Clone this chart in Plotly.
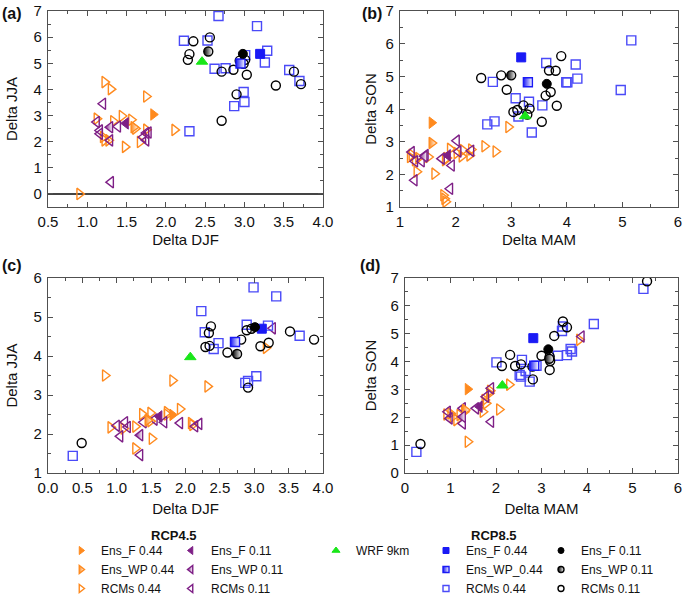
import plotly.graph_objects as go

# ---------------- data ----------------
# Panel (a): x = Delta DJF, y = Delta JJA
A_O_F = [[1.84, 3.04]]
A_O_WP = [[1.59, 2.55]]
A_O_R = [[1.22, 4.28], [1.30, 4.01], [1.75, 3.73], [1.44, 2.98], [1.56, 2.84], [1.12, 2.88],
         [1.33, 2.78], [1.61, 2.50], [1.75, 2.46], [2.11, 2.45], [1.67, 1.99], [1.22, 2.05],
         [1.48, 1.80], [1.20, 2.18], [0.90, 0.00], [1.27, 2.05]]
A_P_F = [[1.49, 2.70]]
A_P_WP = [[1.29, 2.55]]
A_P_R = [[1.20, 3.45], [1.12, 2.75], [1.39, 2.58], [1.16, 2.43], [1.16, 2.30], [1.75, 2.33],
         [1.71, 2.17], [1.75, 2.05], [1.29, 2.05], [1.30, 0.45], [1.78, 2.35]]
A_WRF = [[2.46, 5.06]]
A_B_F = [[3.20, 5.36]]
A_B_WP = [[2.95, 4.99]]
A_B_R = [[2.67, 6.81], [3.16, 6.42], [2.23, 5.86], [2.53, 5.87], [3.01, 5.31], [3.29, 5.48],
         [3.26, 5.03], [2.62, 4.79], [2.76, 4.81], [3.57, 4.74], [3.70, 4.32], [2.99, 3.90],
         [3.00, 3.52], [2.87, 3.36], [2.30, 2.40]]
A_K_F = [[2.98, 5.36]]
A_K_WP = [[2.54, 5.45]]
A_K_R = [[2.35, 5.84], [2.56, 5.99], [2.30, 5.35], [2.28, 5.13], [2.71, 4.68], [2.86, 4.75],
         [2.94, 5.10], [3.01, 5.13], [3.03, 4.56], [2.90, 3.81], [2.71, 2.80], [3.40, 4.15],
         [3.63, 4.68], [3.72, 4.20], [2.99, 4.98]]

# Panel (b): x = Delta MAM, y = Delta SON
B_O_F = [[1.57, 3.58]]
B_O_WP = [[1.57, 2.96]]
B_O_R = [[2.52, 2.86], [2.72, 2.70], [2.95, 3.45], [2.28, 2.76], [2.13, 2.74], [2.11, 2.55],
         [2.25, 2.58], [1.90, 2.78], [1.81, 2.43], [1.84, 2.50], [1.21, 2.60], [1.18, 2.53],
         [1.27, 2.43], [1.51, 2.53], [1.33, 2.50], [1.30, 2.08], [1.62, 2.02], [1.78, 1.36],
         [1.80, 1.25], [1.82, 1.16], [2.02, 2.65]]
B_P_F = [[1.86, 2.58]]
B_P_WP = [[1.44, 2.55]]
B_P_R = [[2.02, 3.03], [1.93, 2.27], [2.28, 2.72], [1.21, 2.68], [1.27, 2.40], [1.39, 2.40],
         [1.46, 2.59], [1.26, 1.82], [1.90, 1.56], [1.75, 2.48], [2.05, 2.70]]
B_WRF = [[3.25, 3.78]]
B_B_F = [[3.18, 5.58]]
B_B_WP = [[3.30, 4.82]]
B_B_R = [[5.16, 6.10], [4.97, 4.58], [3.63, 5.41], [4.16, 5.36], [3.99, 4.82], [4.19, 4.93],
         [2.67, 4.83], [3.08, 4.33], [3.13, 3.77], [3.32, 4.22], [3.56, 4.11], [3.37, 3.28],
         [2.57, 3.53], [2.70, 3.62], [4.01, 4.82]]
B_K_F = [[3.64, 4.77]]
B_K_WP = [[3.00, 5.03]]
B_K_R = [[3.90, 5.62], [3.68, 5.18], [3.80, 5.17], [2.82, 5.03], [2.46, 4.95], [2.92, 4.59],
         [3.62, 4.41], [3.71, 4.52], [3.82, 4.10], [3.55, 3.61], [3.04, 3.91], [3.11, 3.97],
         [3.22, 4.11], [3.33, 4.01], [3.29, 3.83]]

# Panel (c): x = Delta DJF, y = Delta JJA
C_O_F = [[1.81, 2.49]]
C_O_WP = [[1.45, 2.35]]
C_O_R = [[0.83, 3.50], [1.81, 3.37], [2.32, 3.22], [3.17, 4.21], [0.91, 2.17], [1.37, 2.51],
         [1.49, 2.54], [1.73, 2.56], [1.92, 2.64], [1.51, 1.88], [1.27, 1.63], [2.08, 2.28],
         [1.10, 2.14], [1.27, 2.19], [2.10, 2.23], [1.49, 2.33], [1.73, 2.50]]
C_P_F = [[1.62, 2.45]]
C_P_WP = [[1.34, 1.97]]
C_P_R = [[3.27, 4.71], [1.00, 2.21], [1.05, 1.94], [1.12, 2.30], [1.16, 2.18], [1.34, 1.46],
         [1.39, 2.30], [1.55, 2.37], [1.69, 2.30], [1.92, 2.28], [2.14, 2.20], [2.20, 2.26]]
C_WRF = [[2.07, 3.97]]
C_B_F = [[3.11, 4.70]]
C_B_WP = [[2.72, 4.36]]
C_B_R = [[0.36, 1.44], [2.99, 5.76], [3.32, 5.53], [2.23, 5.15], [2.28, 4.61], [2.48, 4.33],
         [2.41, 4.18], [2.89, 4.80], [3.20, 4.78], [3.66, 4.52], [3.03, 3.48], [2.87, 3.31],
         [2.91, 3.36]]
C_K_F = [[3.01, 4.74]]
C_K_WP = [[2.75, 4.05]]
C_K_R = [[0.49, 1.77], [2.34, 4.59], [2.37, 4.76], [2.29, 4.23], [2.35, 4.26], [2.61, 4.09],
         [2.81, 4.42], [2.89, 4.66], [2.96, 4.70], [3.09, 4.25], [3.21, 4.34], [3.52, 4.63],
         [3.87, 4.42], [2.91, 3.19]]

# Panel (d): x = Delta MAM, y = Delta SON
D_O_F = [[1.38, 3.01]]
D_O_WP = [[1.32, 2.26]]
D_O_R = [[2.29, 3.17], [2.07, 2.28], [1.38, 1.12], [3.83, 4.78], [1.85, 2.86], [1.75, 2.62],
         [1.78, 2.50], [1.71, 2.20], [0.91, 2.10], [1.30, 2.20], [1.05, 2.02], [1.13, 1.90],
         [1.20, 2.08], [1.00, 2.14], [1.87, 2.95]]
D_P_F = [[1.64, 2.38]]
D_P_WP = [[1.27, 2.02]]
D_P_R = [[1.89, 3.04], [1.78, 2.74], [1.56, 2.32], [1.89, 1.84], [0.94, 2.20], [1.27, 2.32],
         [1.27, 1.78], [0.98, 1.96], [3.88, 4.90]]
D_WRF = [[2.14, 3.14]]
D_B_F = [[2.82, 4.84]]
D_B_WP = [[2.84, 3.85]]
D_B_R = [[0.25, 0.76], [5.24, 6.61], [4.15, 5.35], [2.01, 3.97], [2.57, 4.06], [2.65, 3.66],
         [2.52, 3.52], [2.55, 3.46], [2.74, 3.28], [2.89, 3.85], [3.36, 4.21], [3.56, 4.23],
         [3.67, 4.36], [3.64, 4.45], [3.45, 5.10], [3.47, 5.26]]
D_K_F = [[3.15, 4.44]]
D_K_WP = [[3.17, 4.10]]
D_K_R = [[0.34, 1.04], [5.32, 6.88], [3.47, 5.44], [3.56, 5.23], [3.28, 4.92], [2.31, 4.24],
         [2.13, 3.84], [2.42, 3.84], [2.55, 3.90], [2.80, 3.82], [3.00, 4.21], [3.18, 4.18],
         [3.19, 4.02], [3.18, 3.70], [2.81, 3.36]]

PANELS = {
    "a": [A_O_F, A_O_WP, A_O_R, A_P_F, A_P_WP, A_P_R, A_WRF, A_B_F, A_B_WP, A_B_R, A_K_F, A_K_WP, A_K_R],
    "b": [B_O_F, B_O_WP, B_O_R, B_P_F, B_P_WP, B_P_R, B_WRF, B_B_F, B_B_WP, B_B_R, B_K_F, B_K_WP, B_K_R],
    "c": [C_O_F, C_O_WP, C_O_R, C_P_F, C_P_WP, C_P_R, C_WRF, C_B_F, C_B_WP, C_B_R, C_K_F, C_K_WP, C_K_R],
    "d": [D_O_F, D_O_WP, D_O_R, D_P_F, D_P_WP, D_P_R, D_WRF, D_B_F, D_B_WP, D_B_R, D_K_F, D_K_WP, D_K_R],
}

SERIES_NAMES = ["Ens_F 0.44", "Ens_WP 0.44", "RCMs 0.44",
                "Ens_F 0.11", "Ens_WP 0.11", "RCMs 0.11",
                "WRF 9km",
                "Ens_F 0.44", "Ens_WP_0.44", "RCMs 0.44",
                "Ens_F 0.11", "Ens_WP 0.11", "RCMs 0.11"]

# ---------------- styles ----------------
ORANGE = "#FF8A1E"
PURPLE = "#7E1F86"
GREEN = "#19E619"
BLUE = "#1A1AF5"
BLUE_OPEN = "#4A4AF8"
BLACK = "#000000"

# (symbol, color, kind) kind: F filled, WP half, R open
STYLES = [
    ("triangle-right", ORANGE, "F"), ("triangle-right", ORANGE, "WP"), ("triangle-right-open", ORANGE, "R"),
    ("triangle-left", PURPLE, "F"), ("triangle-left", PURPLE, "WP"), ("triangle-left-open", PURPLE, "R"),
    ("triangle-up", GREEN, "F"),
    ("square", BLUE, "F"), ("square", BLUE, "WP"), ("square-open", BLUE_OPEN, "R"),
    ("circle", BLACK, "F"), ("circle", BLACK, "WP"), ("circle-open", BLACK, "R"),
]
LEGEND_OF = ["legend", "legend", "legend", "legend2", "legend2", "legend2", "legend3",
             "legend4", "legend4", "legend4", "legend5", "legend5", "legend5"]

AXES = {"a": ("x", "y"), "b": ("x2", "y2"), "c": ("x3", "y3"), "d": ("x4", "y4")}


def marker_for(sym, color, kind, size):
    m = dict(symbol=sym, size=size, color=color)
    if kind == "R":
        m["line"] = dict(color=color, width=1.4)
    elif kind == "WP":
        m["line"] = dict(color=color, width=1.4)
        m["gradient"] = dict(type="horizontal", color="white")
    else:
        m["line"] = dict(color=color, width=1)
    if sym.startswith("triangle"):
        m["size"] = size + 1
    return m


fig = go.Figure()

for panel, series_list in PANELS.items():
    xa, ya = AXES[panel]
    # draw open markers first, filled ones last (on top)
    order = [2, 5, 9, 12, 1, 4, 8, 11, 0, 3, 7, 10, 6]
    for i in order:
        pts = series_list[i]
        sym, color, kind = STYLES[i]
        fig.add_trace(go.Scatter(
            x=[p[0] for p in pts], y=[p[1] for p in pts],
            mode="markers", xaxis=xa, yaxis=ya,
            marker=marker_for(sym, color, kind, 9),
            showlegend=False, hoverinfo="x+y",
        ))

# legend entries (small symbols, like the reference legend)
for i, name in enumerate(SERIES_NAMES):
    sym, color, kind = STYLES[i]
    fig.add_trace(go.Scatter(
        x=[None], y=[None], mode="markers", name=name,
        marker=marker_for(sym, color, kind, 6),
        legend=LEGEND_OF[i], showlegend=True, xaxis="x", yaxis="y",
    ))

FONT = "Arial, Liberation Sans, Helvetica, sans-serif"
AX_COL = "#505050"


def axis(domain, rng, dtick, mdtick, title, anchor, fmt=None, zeroline=False, standoff=6, is_x=True):
    d = dict(domain=domain, range=rng, dtick=dtick, tick0=0,
             showline=True, linecolor=AX_COL, linewidth=1.3, mirror="ticks",
             ticks="inside", ticklen=5, tickwidth=1, tickcolor=AX_COL,
             minor=dict(ticks="inside", ticklen=3, dtick=mdtick, tick0=0, tickcolor=AX_COL),
             showgrid=False, zeroline=zeroline, zerolinecolor="#444", zerolinewidth=1.5,
             tickfont=dict(size=15, color="#111"), anchor=anchor,
             ticklabelstandoff=(1 if is_x else 2),
             title=dict(text=title, font=dict(size=15, color="#111"), standoff=standoff))
    if fmt:
        d["tickformat"] = fmt
    return d


W, H = 685.0, 598.0


def px_dom_x(a, b):
    return [a / W, b / W]


def px_dom_y(top, bottom):
    return [1 - bottom / H, 1 - top / H]


fig.update_layout(
    width=685, height=598,
    margin=dict(l=0, r=0, t=0, b=0, autoexpand=False),
    paper_bgcolor="white", plot_bgcolor="white",
    font=dict(family=FONT, size=15, color="#111"),
    xaxis=axis(px_dom_x(48, 323), [0.5, 4.0], 0.5, 0.25, "Delta DJF", "y", ".1f", standoff=5),
    yaxis=axis(px_dom_y(11, 207), [-0.5, 7], 1, 0.5, "Delta JJA", "x", zeroline=True, standoff=12, is_x=False),
    xaxis2=axis(px_dom_x(400, 678), [1, 6], 1, 0.5, "Delta MAM", "y2", standoff=5),
    yaxis2=axis(px_dom_y(11, 207), [1, 7], 1, 0.5, "Delta SON", "x2", standoff=5, is_x=False),
    xaxis3=axis(px_dom_x(48, 323), [0, 4], 0.5, 0.25, "Delta DJF", "y3", ".1f", standoff=8),
    yaxis3=axis(px_dom_y(278, 473), [1, 6], 1, 0.5, "Delta JJA", "x3", standoff=12, is_x=False),
    xaxis4=axis(px_dom_x(405, 678), [0, 6], 1, 0.5, "Delta MAM", "y4", standoff=8),
    yaxis4=axis(px_dom_y(278, 473), [0, 7], 1, 0.5, "Delta SON", "x4", standoff=10, is_x=False),
)

leg_common = dict(font=dict(size=12, family=FONT, color="#111"), bgcolor="rgba(0,0,0,0)",
                  xanchor="left", yanchor="top", orientation="v", itemsizing="trace",
                  tracegroupgap=0)
leg_top = 1 - 536 / H
fig.update_layout(
    legend=dict(x=61 / W, y=leg_top, **leg_common),
    legend2=dict(x=171 / W, y=leg_top, **leg_common),
    legend3=dict(x=316 / W, y=leg_top, **leg_common),
    legend4=dict(x=426 / W, y=leg_top, **leg_common),
    legend5=dict(x=541 / W, y=leg_top, **leg_common),
)

annots = [
    dict(text="<b>(a)</b>", x=0 / W, y=1 - 14 / H),
    dict(text="<b>(b)</b>", x=360 / W, y=1 - 14 / H),
    dict(text="<b>(c)</b>", x=0 / W, y=1 - 266 / H),
    dict(text="<b>(d)</b>", x=358 / W, y=1 - 266 / H),
]
for a in annots:
    fig.add_annotation(xref="paper", yref="paper", xanchor="left", yanchor="middle",
                       showarrow=False, font=dict(size=16, family=FONT, color="#111"), **a)
for txt, xc in [("<b>RCP4.5</b>", 174), ("<b>RCP8.5</b>", 494)]:
    fig.add_annotation(xref="paper", yref="paper", x=xc / W, y=1 - 535 / H, text=txt,
                       xanchor="center", yanchor="middle", showarrow=False,
                       font=dict(size=13, family=FONT, color="#111"))

# the page body has a default 8px margin; remove it so the 685x598 figure fills the window
fig.write_html("out.html", config={"displayModeBar": False},
               post_script="document.body.style.margin='0';")
